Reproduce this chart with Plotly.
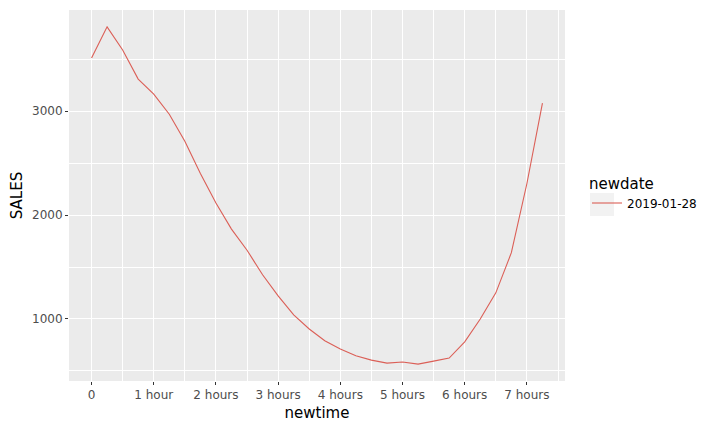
import plotly.graph_objects as go

hours = [0, 0.25, 0.5, 0.75, 1.0, 1.25, 1.5, 1.75, 2.0, 2.25, 2.5, 2.75, 3.0, 3.25, 3.5,
         3.75, 4.0, 4.25, 4.5, 4.75, 5.0, 5.25, 5.5, 5.75, 6.0, 6.25, 6.5, 6.75, 7.0, 7.25]
sales = [3512, 3812, 3590, 3309, 3164, 2971, 2710, 2401, 2116, 1865, 1662, 1425, 1222, 1040, 903,
         790, 710, 645, 604, 575, 585, 565, 594, 623, 780, 1000, 1251, 1638, 2304, 3077]
series_name = "2019-01-28"
x_tick_vals = [0, 1, 2, 3, 4, 5, 6, 7]
x_tick_text = ["0", "1 hour", "2 hours", "3 hours", "4 hours", "5 hours", "6 hours", "7 hours"]
y_tick_vals = [1000, 2000, 3000]

# page body has an 8px margin; figure is sized/offset to compensate
OFF = 8
W, H = 716 - OFF, 433 - OFF
ml, mr, mt, mb = 69 - OFF, 151, 10 - OFF, 52
pw, ph = W - ml - mr, H - mt - mb


def px_x(x):  # page x pixel -> paper coordinate
    return (x - OFF - ml) / pw


def px_y(y):  # page y pixel -> paper coordinate
    return (H - mb - (y - OFF)) / ph


fig = go.Figure()
fig.add_trace(go.Scatter(x=hours, y=sales, mode="lines", name=series_name,
                         line=dict(color="#DB5F57", width=1.1)))

xr = [min(hours) - 0.05 * (max(hours) - min(hours)), max(hours) + 0.05 * (max(hours) - min(hours))]
yr = [min(sales) - 0.05 * (max(sales) - min(sales)), max(sales) + 0.05 * (max(sales) - min(sales))]

axis_common = dict(showline=False, zeroline=False, gridcolor="white", gridwidth=1.1,
                   ticks="outside", ticklen=3, tickcolor="#333333", tickwidth=1, automargin=False,
                   tickfont=dict(family="DejaVu Sans", size=12, color="#4D4D4D"))

fig.update_xaxes(range=xr, tickvals=x_tick_vals, ticktext=x_tick_text,
                 title=dict(text="newtime", font=dict(family="DejaVu Sans", size=15, color="black"), standoff=6),
                 minor=dict(dtick=0.5, tick0=0.5, showgrid=True, gridcolor="white", gridwidth=0.5, ticks=""),
                 **axis_common)
fig.update_yaxes(range=yr, tickvals=y_tick_vals,
                 title=dict(text="SALES", font=dict(family="DejaVu Sans", size=15, color="black"), standoff=6),
                 minor=dict(tickvals=[500, 1500, 2500, 3500], showgrid=True, gridcolor="white", gridwidth=0.5, ticks=""),
                 **axis_common)

# legend key background
fig.add_shape(type="rect", xref="paper", yref="paper",
              x0=px_x(590), x1=px_x(614), y0=px_y(216), y1=px_y(193),
              fillcolor="#F2F2F2", line=dict(width=0), layer="below")

fig.update_layout(
    width=W, height=H,
    margin=dict(l=ml, r=mr, t=mt, b=mb, autoexpand=False),
    plot_bgcolor="#EBEBEB", paper_bgcolor="white",
    font=dict(family="DejaVu Sans", color="black"),
    showlegend=True,
    legend=dict(title=dict(text="newdate", font=dict(size=15, color="black")),
                font=dict(size=12, color="black"),
                x=px_x(587), xanchor="left",
                y=px_y(169), yanchor="top",
                bgcolor="rgba(0,0,0,0)", itemwidth=30, tracegroupgap=0),
)

fig.write_html("out.html")
